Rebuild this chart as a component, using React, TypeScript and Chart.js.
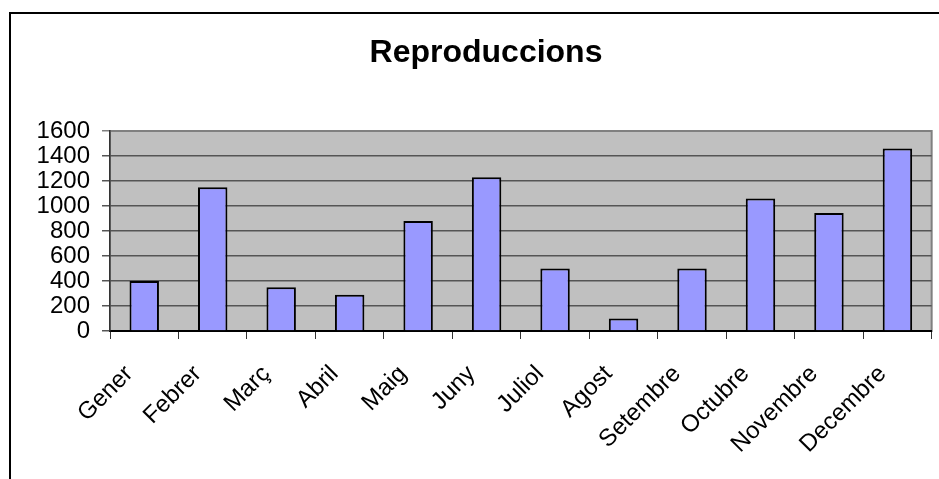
import React, { useEffect, useRef } from "react";
import { Chart, registerables } from "chart.js";

Chart.register(...registerables);

const TITLE = "Reproduccions";
const MONTHS = [
  "Gener",
  "Febrer",
  "Març",
  "Abril",
  "Maig",
  "Juny",
  "Juliol",
  "Agost",
  "Setembre",
  "Octubre",
  "Novembre",
  "Decembre",
];
const VALUES = [400, 1150, 350, 290, 880, 1230, 500, 100, 500, 1060, 945, 1460];
const Y_MIN = 0;
const Y_MAX = 1600;
const Y_STEP = 200;

const W = 939;
const H = 479;
const PLOT_LEFT = 110;
const PLOT_RIGHT = 934;
const PLOT_BOTTOM = 331;
const PAD_LEFT = 38;
const FONT = 'Arial, "Liberation Sans", sans-serif';

const framePlugin = {
  id: "frame",
  beforeDraw(chart: any) {
    const { ctx, chartArea: a } = chart;
    ctx.save();
    ctx.fillStyle = "#ffffff";
    ctx.fillRect(0, 0, chart.width, chart.height);
    ctx.strokeStyle = "#000000";
    ctx.lineWidth = 2;
    ctx.strokeRect(10, 13, chart.width + 40, chart.height + 40);
    ctx.fillStyle = "#C0C0C0";
    ctx.fillRect(a.left, a.top, a.right - a.left, a.bottom - a.top);
    ctx.strokeStyle = "#808080";
    ctx.lineWidth = 2;
    ctx.strokeRect(a.left, a.top, a.right - a.left, a.bottom - a.top);
    ctx.restore();
  },
};

export default function App() {
  const ref = useRef<HTMLCanvasElement | null>(null);

  useEffect(() => {
    if (!ref.current) return;
    const chart = new Chart(ref.current, {
      type: "bar",
      data: {
        labels: MONTHS,
        datasets: [
          {
            data: VALUES,
            backgroundColor: "#9999FF",
            borderColor: "#000000",
            borderWidth: 2,
            barPercentage: 0.43,
            categoryPercentage: 1,
          },
        ],
      },
      options: {
        responsive: false,
        animation: false,
        devicePixelRatio: 1,
        layout: { padding: { left: PAD_LEFT, right: W - PLOT_RIGHT, top: 0, bottom: 0 } },
        plugins: {
          legend: { display: false },
          tooltip: { enabled: false },
          title: {
            display: true,
            text: TITLE,
            color: "#000000",
            font: { family: FONT, size: 32, weight: "bold" },
            padding: { top: 34, bottom: 58.6 },
          },
        },
        scales: {
          x: {
            grid: {
              offset: true,
              drawOnChartArea: false,
              drawTicks: true,
              tickLength: 8,
              color: "#333333",
              lineWidth: 1,
            },
            border: { display: true, color: "#000000", width: 2 },
            ticks: {
              color: "#000000",
              font: { family: FONT, size: 24 },
              minRotation: 45,
              maxRotation: 45,
              padding: 21,
              labelOffset: -15,
              autoSkip: false,
            },
            afterFit: (s: any) => {
              s.height = H - PLOT_BOTTOM;
            },
          },
          y: {
            min: Y_MIN,
            max: Y_MAX,
            ticks: {
              stepSize: Y_STEP,
              autoSkip: false,
              color: "#000000",
              font: { family: FONT, size: 24, lineHeight: 1 },
              padding: 12,
              callback: (v: any) => String(v),
            },
            grid: {
              color: (c: any) => (c.tick && c.tick.value === Y_MAX ? "#808080" : "#555555"),
              tickLength: 8,
              lineWidth: 1.5,
            },
            border: { display: true, color: "#333333", width: 1.5 },
            afterFit: (s: any) => {
              s.width = PLOT_LEFT - PAD_LEFT;
            },
          },
        },
      },
      plugins: [framePlugin],
    });
    return () => chart.destroy();
  }, []);

  return (
    <div style={{ position: "fixed", left: 0, top: 0, width: W, height: H, overflow: "hidden" }}>
      <canvas ref={ref} width={W} height={H} style={{ width: W, height: H, display: "block" }} />
    </div>
  );
}
